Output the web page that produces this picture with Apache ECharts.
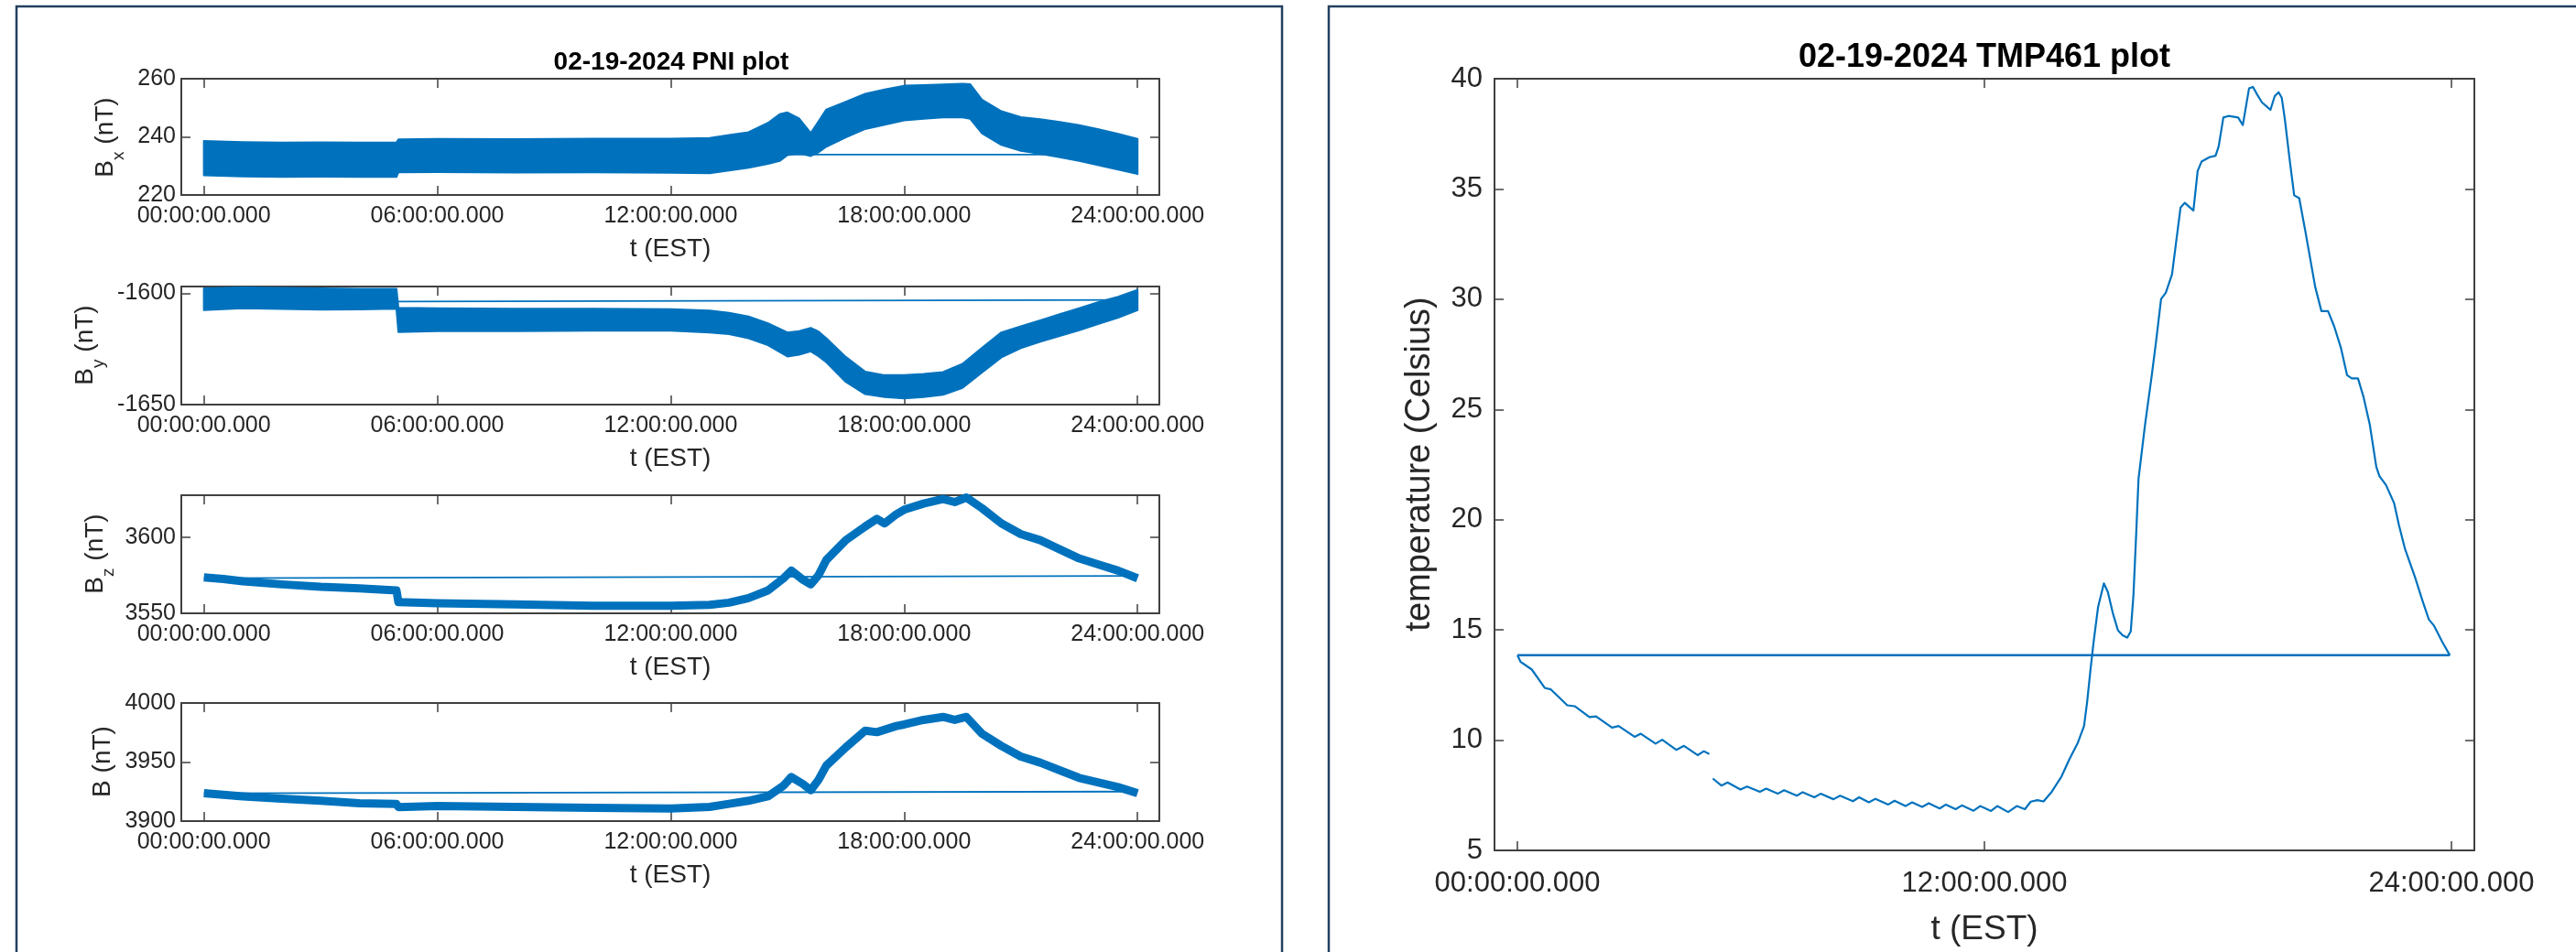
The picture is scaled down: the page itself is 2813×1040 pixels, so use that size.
<!DOCTYPE html>
<html>
<head>
<meta charset="utf-8">
<title>02-19-2024 PNI / TMP461</title>
<script src="https://cdn.jsdelivr.net/npm/echarts@6.0.0/dist/echarts.min.js"></script>
<style>
html, body { margin: 0; padding: 0; background: #fff; }
#chart { width: 2813px; height: 1040px; }
</style>
</head>
<body>
<div id="chart"></div>
<script>
// time is in hours after 00:00 EST
const pniTicks = [0, 6, 12, 18, 24];
const pniTickLabels = ['00:00:00.000', '06:00:00.000', '12:00:00.000', '18:00:00.000', '24:00:00.000'];
const tmpTicks = [0, 12, 24];
const tmpTickLabels = ['00:00:00.000', '12:00:00.000', '24:00:00.000'];

const bxTicks = [220, 240, 260];
const byTicks = [-1650, -1600];
const bzTicks = [3550, 3600];
const bTicks = [3900, 3950, 4000];
const tempTicks = [5, 10, 15, 20, 25, 30, 35, 40];

// Bx (nT): the noise band, read as its lower and upper edge
const bxTime = [0, 1, 2, 3, 4, 4.95, 5.0, 6, 8, 10, 12, 13, 13.5, 14, 14.5, 14.8, 15.0, 15.3, 15.6, 15.8, 16, 16.5, 17, 17.5, 18, 18.5, 19, 19.5, 19.7, 20, 20.5, 21, 21.5, 22, 22.5, 23, 23.5, 24];
const bxLow = [226.8, 226.4, 226.2, 226.3, 226.2, 226.2, 227.8, 227.9, 227.7, 227.8, 227.6, 227.5, 228.4, 229.4, 230.7, 231.7, 233.7, 234.4, 233.4, 234.7, 236.6, 239.8, 242.7, 244.2, 245.7, 246.2, 246.7, 246.7, 246.2, 241.2, 237.2, 235.2, 234.2, 233.0, 231.7, 230.2, 228.7, 227.2];
const bxHigh = [238.6, 238.2, 238.0, 238.1, 238.0, 238.1, 239.1, 239.3, 239.2, 239.4, 239.4, 239.6, 240.6, 241.6, 244.8, 247.8, 248.4, 246.3, 241.3, 245.3, 249.4, 252.1, 254.8, 256.3, 257.6, 257.8, 258.0, 258.3, 258.1, 252.8, 248.8, 246.8, 246.1, 245.1, 244.0, 242.6, 241.0, 239.3];
const bxWrap = [[0, 233.9], [24, 233.9]];

// By (nT)
const byTime = [0, 1, 2, 3, 4, 4.95, 5.0, 6, 8, 10, 12, 13, 13.5, 14, 14.5, 15, 15.3, 15.6, 15.8, 16, 16.5, 17, 17.5, 18, 18.5, 19, 19.5, 20, 20.5, 21, 21.5, 22, 22.5, 23, 23.5, 24];
const byLow = [-1607.6, -1606.8, -1607.1, -1607.4, -1607.3, -1607.0, -1617.4, -1617.0, -1617.0, -1616.8, -1616.8, -1617.6, -1618.4, -1620.2, -1623.3, -1628.4, -1627.6, -1626.1, -1628.3, -1631.0, -1639.8, -1645.3, -1646.6, -1647.2, -1646.6, -1645.6, -1642.5, -1635.6, -1628.8, -1624.7, -1621.8, -1619.2, -1616.6, -1613.8, -1611.0, -1607.6];
const byHigh = [-1597.8, -1597.4, -1597.6, -1597.8, -1598.0, -1598.0, -1606.6, -1606.8, -1607.0, -1607.0, -1607.2, -1607.8, -1608.8, -1610.4, -1613.5, -1617.6, -1617.0, -1615.6, -1617.2, -1620.2, -1628.6, -1635.2, -1636.8, -1636.8, -1636.2, -1635.4, -1631.7, -1624.5, -1617.6, -1614.9, -1612.2, -1609.4, -1606.7, -1604.0, -1601.6, -1598.5];
const byWrap = [[0, -1603.9], [24, -1603.0]];

// Bz (nT), middle of the trace
const bzTime = [0, 0.5, 1, 2, 3, 4, 4.95, 5.0, 6, 8, 10, 12, 13, 13.5, 14, 14.5, 14.9, 15.1, 15.4, 15.6, 15.8, 16, 16.5, 17, 17.3, 17.5, 17.8, 18, 18.5, 19, 19.3, 19.6, 20, 20.5, 21, 21.5, 22, 22.5, 23, 23.5, 24];
const bzValue = [3573.6, 3572.5, 3571, 3569, 3567.4, 3566.4, 3565, 3557.4, 3556.6, 3555.8, 3555, 3555, 3555.6, 3557, 3560, 3565, 3573, 3578, 3572, 3569, 3575, 3585, 3598, 3607, 3612, 3609, 3615, 3618, 3622, 3625, 3623, 3626, 3619, 3609, 3602, 3598, 3592, 3586, 3582, 3578, 3573];
const bzWrap = [[0, 3573], [24, 3574.6]];

// |B| (nT)
const bTime = [0, 1, 2, 3, 4, 4.95, 5.0, 6, 8, 10, 12, 13, 13.5, 14, 14.5, 14.9, 15.1, 15.4, 15.6, 15.8, 16, 16.5, 17, 17.3, 17.8, 18, 18.5, 19, 19.3, 19.6, 20, 20.5, 21, 21.5, 22, 22.5, 23, 23.5, 24];
const bValue = [3923.6, 3921, 3919, 3917.2, 3915.1, 3914.5, 3911.8, 3912.8, 3912, 3911.2, 3910.7, 3912, 3914.6, 3917.2, 3921, 3930, 3937.3, 3931.4, 3926.2, 3935, 3947, 3962.4, 3976.6, 3975.3, 3980.5, 3981.8, 3985.7, 3988.2, 3985.7, 3988.2, 3974, 3963.7, 3954.7, 3949.5, 3943, 3936.6, 3932.7, 3928.8, 3923.6];
const bWrap = [[0, 3923.6], [24, 3925]];

// TMP461 temperature (Celsius); null = gap in the record
const tempTime = [0, 0.08, 0.15, 0.37, 0.70, 0.86, 1.28, 1.47, 1.85, 2.02, 2.43, 2.60, 3.01, 3.17, 3.55, 3.72, 4.08, 4.28, 4.63, 4.79, 4.93, 4.98,
  5.02, 5.24, 5.40, 5.73, 5.90, 6.23, 6.39, 6.69, 6.85, 7.18, 7.33, 7.63, 7.79, 8.12, 8.29, 8.62, 8.78, 9.03, 9.20, 9.53, 9.69, 9.97, 10.14,
  10.40, 10.57, 10.85, 11.01, 11.26, 11.42, 11.72, 11.89, 12.17, 12.33, 12.61, 12.83, 13.04, 13.19, 13.36, 13.52, 13.73, 13.98, 14.18,
  14.40, 14.56, 14.64, 14.73, 14.81, 14.92, 15.07, 15.17, 15.30, 15.43, 15.55, 15.67, 15.76, 15.83, 15.90, 15.96, 16.13, 16.29, 16.41,
  16.54, 16.66, 16.82, 16.92, 17.04, 17.15, 17.28, 17.37, 17.48, 17.58, 17.78, 17.94, 18.02, 18.14, 18.27, 18.52, 18.64, 18.72, 18.80,
  18.90, 19.01, 19.13, 19.26, 19.35, 19.46, 19.56, 19.64, 19.72, 19.84, 19.96, 20.09, 20.25, 20.50, 20.66, 20.83, 20.99, 21.16, 21.32,
  21.44, 21.60, 21.74, 21.90, 22.07, 22.15, 22.32, 22.53, 22.65, 22.81, 23.06, 23.26, 23.42, 23.55, 23.75, 23.96];
const tempC = [13.85, 13.55, 13.47, 13.20, 12.37, 12.30, 11.58, 11.54, 11.05, 11.08, 10.57, 10.64, 10.15, 10.29, 9.84, 10.02, 9.56, 9.74, 9.32, 9.50, 9.37, null,
  8.26, 7.94, 8.08, 7.76, 7.90, 7.66, 7.80, 7.57, 7.73, 7.48, 7.64, 7.41, 7.57, 7.32, 7.48, 7.23, 7.41, 7.18, 7.34, 7.08, 7.25, 7.01, 7.18,
  6.97, 7.14, 6.90, 7.08, 6.87, 7.04, 6.80, 7.01, 6.79, 7.01, 6.74, 7.01, 6.87, 7.21, 7.28, 7.22, 7.66, 8.35, 9.12,
  9.88, 10.64, 11.74, 13.27, 14.51, 16.03, 17.11, 16.73, 15.76, 14.99, 14.76, 14.65, 14.93, 16.59, 19.35, 21.85, 24.34, 26.41, 28.07,
  30.01, 30.29, 31.12, 32.50, 34.16, 34.37, 34.16, 34.02, 35.82, 36.24, 36.44, 36.51, 36.93, 38.24, 38.31, 38.24, 37.90, 38.73, 39.56,
  39.63, 39.28, 38.93, 38.73, 38.59, 39.21, 39.39, 39.14, 38.17, 36.38, 34.71, 34.58, 33.05, 30.56, 29.46, 29.46, 28.76, 27.80, 26.55,
  26.41, 26.41, 25.58, 24.34, 22.40, 21.98, 21.57, 20.74, 19.77, 18.66, 17.42, 16.31, 15.48, 15.20, 14.51, 13.85];
const tempWrap = [[23.96, 13.85], [0, 13.85]];

const font = "'Liberation Sans', Arial, Helvetica, sans-serif";
const blue = '#0072BD';
const ink = '#262626';
const frame = '#404040';
const panelEdge = '#22405f';

const boxLine = { show: true, onZero: false, lineStyle: { color: frame, width: 2 } };

function xPair(g, min, max, ticks, labels, size, margin, gap, nameSize) {
  const tick = { show: true, inside: true, length: 10, customValues: ticks, lineStyle: { color: frame, width: 1.5 } };
  return [{
    type: 'value', gridIndex: g, position: 'bottom', min: min, max: max,
    axisLine: boxLine, axisTick: tick, splitLine: { show: false },
    axisLabel: {
      customValues: ticks, margin: margin, fontSize: size, color: ink, fontFamily: font,
      formatter: v => { const i = ticks.indexOf(v); return i < 0 ? '' : labels[i]; }
    },
    name: 't (EST)', nameLocation: 'middle', nameGap: gap,
    nameTextStyle: { fontSize: nameSize, color: ink, fontFamily: font }
  }, {
    type: 'value', gridIndex: g, position: 'top', min: min, max: max,
    axisLine: boxLine, axisTick: tick, axisLabel: { show: false }, splitLine: { show: false }
  }];
}

function yPair(g, min, max, ticks, size, margin) {
  const tick = { show: true, inside: true, length: 10, customValues: ticks, lineStyle: { color: frame, width: 1.5 } };
  return [{
    type: 'value', gridIndex: g, position: 'left', min: min, max: max,
    axisLine: boxLine, axisTick: tick, splitLine: { show: false },
    axisLabel: { customValues: ticks, margin: margin, fontSize: size, color: ink, fontFamily: font, formatter: v => String(v) }
  }, {
    type: 'value', gridIndex: g, position: 'right', min: min, max: max,
    axisLine: boxLine, axisTick: tick, axisLabel: { show: false }, splitLine: { show: false }
  }];
}

// the noisy trace is drawn as one filled band between its edges
function bandSeries(g, time, low, high) {
  return {
    type: 'custom', xAxisIndex: g * 2, yAxisIndex: g * 2,
    data: time.map((t, i) => [t, low[i], high[i]]),
    encode: { x: 0, y: [1, 2] },
    clip: true, silent: true, z: 2,
    renderItem: function (params, api) {
      if (params.dataIndex !== 0) return null;
      const pts = [];
      for (let i = 0; i < time.length; i++) pts.push(api.coord([time[i], high[i]]));
      for (let i = time.length - 1; i >= 0; i--) pts.push(api.coord([time[i], low[i]]));
      return {
        type: 'polygon', shape: { points: pts },
        style: { fill: blue, stroke: blue, lineWidth: 2, lineJoin: 'round' }
      };
    }
  };
}

function lineSeries(g, data, width) {
  return {
    type: 'line', xAxisIndex: g * 2, yAxisIndex: g * 2, data: data,
    symbol: 'none', silent: true, clip: true, z: 3,
    lineStyle: { color: blue, width: width, join: 'round' }
  };
}

const zip = (a, b) => a.map((v, i) => [v, b[i]]);

function yLabel(x, y, main, sub, rest) {
  return {
    type: 'text', x: x, y: y, rotation: Math.PI / 2, silent: true,
    style: {
      text: sub ? '{m|' + main + '}{s|' + sub + '}{m|' + rest + '}' : '{m|' + main + rest + '}',
      align: 'center', verticalAlign: 'middle', textAlign: 'center', textVerticalAlign: 'middle',
      rich: {
        m: { fontSize: 28, fontFamily: font, fill: ink, color: ink, lineHeight: 34 },
        s: { fontSize: 19, fontFamily: font, fill: ink, color: ink, height: 4, verticalAlign: 'bottom' }
      }
    }
  };
}

const chart = echarts.init(document.getElementById('chart'), null, { renderer: 'canvas', width: 2813, height: 1040 });

chart.setOption({
  animation: false,
  backgroundColor: '#ffffff',
  grid: [
    { left: 198, top: 86, width: 1068, height: 127, outerBoundsMode: 'none' },
    { left: 198, top: 313, width: 1068, height: 129, outerBoundsMode: 'none' },
    { left: 198, top: 541, width: 1068, height: 129, outerBoundsMode: 'none' },
    { left: 198, top: 768, width: 1068, height: 129, outerBoundsMode: 'none' },
    { left: 1632, top: 86, width: 1070, height: 843, outerBoundsMode: 'none' }
  ],
  xAxis: [].concat(
    xPair(0, -0.58, 24.56, pniTicks, pniTickLabels, 25, 11, 45, 28),
    xPair(1, -0.58, 24.56, pniTicks, pniTickLabels, 25, 11, 45, 28),
    xPair(2, -0.58, 24.56, pniTicks, pniTickLabels, 25, 11, 45, 28),
    xPair(3, -0.58, 24.56, pniTicks, pniTickLabels, 25, 11, 45, 28),
    xPair(4, -0.59, 24.59, tmpTicks, tmpTickLabels, 31, 21, 68, 37)
  ),
  yAxis: [].concat(
    yPair(0, 220, 260, bxTicks, 25, 6),
    yPair(1, -1650, -1597, byTicks, 25, 6),
    yPair(2, 3550, 3627.5, bzTicks, 25, 6),
    yPair(3, 3900, 4000, bTicks, 25, 6),
    yPair(4, 5, 40, tempTicks, 31, 13)
  ),
  series: [
    bandSeries(0, bxTime, bxLow, bxHigh),
    lineSeries(0, bxWrap, 1.8),
    bandSeries(1, byTime, byLow, byHigh),
    lineSeries(1, byWrap, 1.8),
    lineSeries(2, zip(bzTime, bzValue), 9),
    lineSeries(2, bzWrap, 1.8),
    lineSeries(3, zip(bTime, bValue), 9),
    lineSeries(3, bWrap, 1.8),
    lineSeries(4, zip(tempTime, tempC), 2.2),
    lineSeries(4, tempWrap, 2.5)
  ],
  graphic: [
    { type: 'rect', silent: true, shape: { x: 18, y: 7, width: 1382, height: 1100 },
      style: { fill: 'none', stroke: panelEdge, lineWidth: 2.5 } },
    { type: 'rect', silent: true, shape: { x: 1451, y: 7, width: 1500, height: 1100 },
      style: { fill: 'none', stroke: panelEdge, lineWidth: 2.5 } },
    { type: 'text', x: 733, y: 68, silent: true,
      style: { text: '02-19-2024 PNI plot', font: 'bold 28px ' + font, fill: '#000',
        align: 'center', verticalAlign: 'middle', textAlign: 'center', textVerticalAlign: 'middle' } },
    { type: 'text', x: 2167, y: 63, silent: true,
      style: { text: '02-19-2024 TMP461 plot', font: 'bold 36px ' + font, fill: '#000',
        align: 'center', verticalAlign: 'middle', textAlign: 'center', textVerticalAlign: 'middle' } },
    yLabel(115, 150, 'B', 'x', ' (nT)'),
    yLabel(93, 377, 'B', 'y', ' (nT)'),
    yLabel(104, 605, 'B', 'z', ' (nT)'),
    yLabel(112, 832, 'B', '', ' (nT)'),
    { type: 'text', x: 1551, y: 507, rotation: Math.PI / 2, silent: true,
      style: { text: 'temperature (Celsius)', font: '38px ' + font, fill: ink,
        align: 'center', verticalAlign: 'middle', textAlign: 'center', textVerticalAlign: 'middle' } }
  ]
});
</script>
</body>
</html>
